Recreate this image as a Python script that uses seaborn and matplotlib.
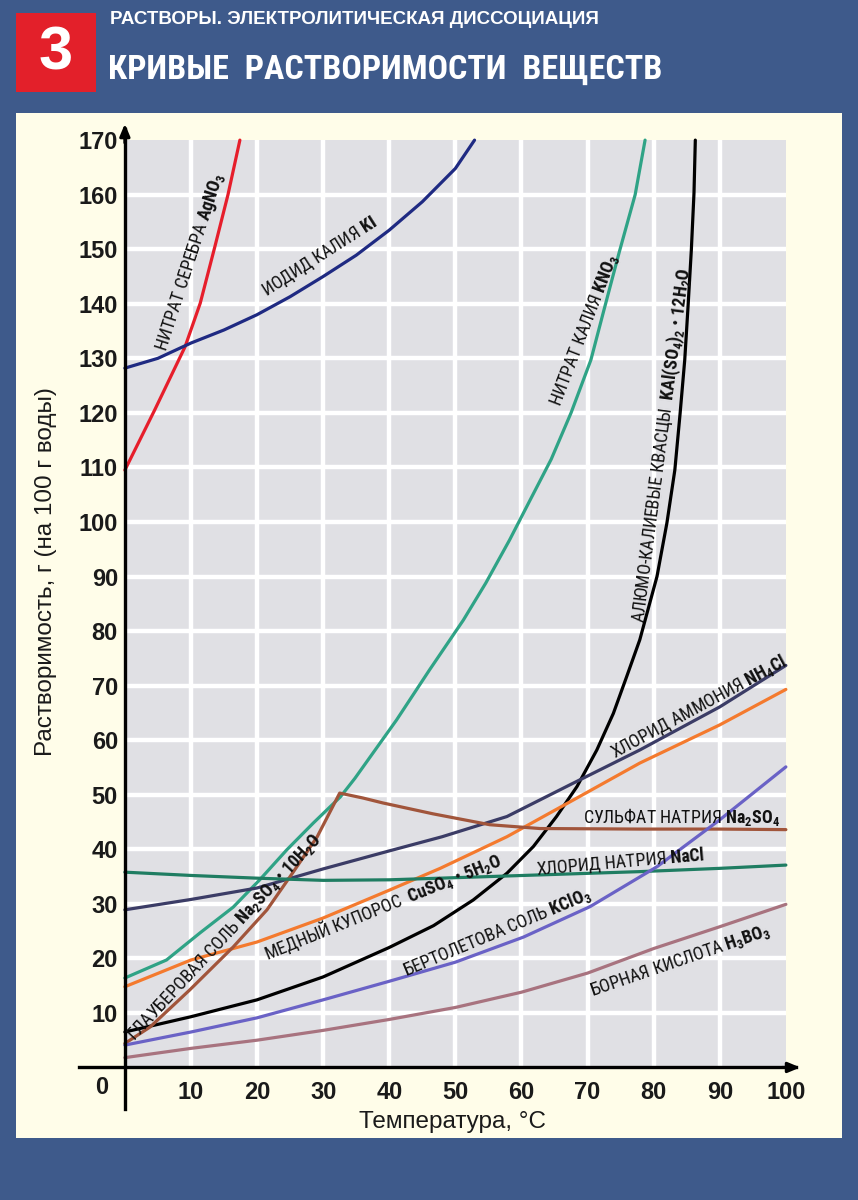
import numpy as np
import pandas as pd
import matplotlib
matplotlib.use("Agg")
import matplotlib.pyplot as plt
import seaborn as sns
from matplotlib.patches import Rectangle
from matplotlib import font_manager as fm

# ---------------- data ----------------
agno3_T = [0, 4.5, 9.1, 11.4, 13.6, 15.6, 17.4]
agno3_S = [109.5, 120.5, 132.1, 140.1, 150.4, 160, 170]

ki_T = [0, 5, 10, 15, 20, 25, 30, 35, 40, 45, 50, 52.9]
ki_S = [128.2, 130, 132.8, 135.2, 138, 141.3, 145, 148.9, 153.5, 158.7, 164.8, 170]

kno3_T = [0, 6.3, 11.4, 16.4, 20.4, 24.5, 28.5, 32.6, 34.8, 41.1, 46.1, 51.2, 54.6,
          58.2, 61.3, 64.5, 67.5, 70.5, 72.4, 74.8, 77.2, 78.7]
kno3_S = [16.4, 19.7, 24.7, 29.4, 34.4, 39.9, 44.8, 49.6, 53, 63.7, 72.9, 82, 88.8,
          96.7, 104, 111.5, 120, 129.7, 138.5, 149.5, 160, 170]

alum_T = [0, 10, 20, 30, 40, 46.7, 52.7, 57.8, 61.8, 65.3, 68.4, 71.4, 73.9, 75.9,
          77.9, 80.5, 82, 83.2, 84, 84.7, 85.2, 85.7, 86.1, 86.3]
alum_S = [6.5, 9.3, 12.4, 16.6, 22, 26, 30.7, 35.6, 40.5, 46, 51.5, 58.2, 64.9, 71.6,
          78.4, 90, 99.8, 109.5, 119.9, 129.7, 139.5, 149.9, 160.3, 170]

nh4cl_T = [0, 10, 20, 30, 40, 48, 57.8, 67.8, 77.9, 90, 100]
nh4cl_S = [28.9, 30.8, 32.9, 36.4, 39.7, 42.3, 46, 52.1, 58.2, 66.1, 73.7]

cuso4_T = [0, 10, 20, 30, 40, 47.7, 57.8, 67.8, 77.9, 90, 100]
cuso4_S = [14.8, 19.7, 23, 27.4, 32.5, 36.5, 42.3, 49, 55.8, 62.8, 69.3]

na2so4_T = [0, 3.8, 9.8, 16.4, 21.5, 25.4, 29.1, 32.5, 36, 39, 46.6, 55.2, 62.8, 77.9, 90, 100]
na2so4_S = [4.4, 7.4, 14.2, 22.1, 28.9, 35.7, 42.3, 50.3, 49.4, 48.5, 46.5, 44.5, 43.8, 43.7, 43.7, 43.6]

nacl_T = [0, 10, 20, 30, 40, 47.7, 62.8, 77.9, 90, 100]
nacl_S = [35.8, 35.2, 34.7, 34.3, 34.4, 34.7, 35.3, 35.9, 36.5, 37.1]

kclo3_T = [0, 10, 20, 30, 40, 50, 60.3, 70.4, 80.5, 90, 100]
kclo3_S = [4.1, 6.5, 9.1, 12.4, 15.8, 19.3, 23.9, 29.5, 36.8, 45.4, 55.1]

h3bo3_T = [0, 10, 20, 30, 40, 50, 60, 70, 80, 90, 100]
h3bo3_S = [1.8, 3.5, 5, 6.8, 8.8, 11, 13.8, 17.3, 21.8, 25.8, 29.9]

x_ticks = [10, 20, 30, 40, 50, 60, 70, 80, 90, 100]
y_ticks = list(range(10, 171, 10))

series = {
    "AgNO3": (agno3_T, agno3_S),
    "KI": (ki_T, ki_S),
    "KNO3": (kno3_T, kno3_S),
    "Alum": (alum_T, alum_S),
    "NH4Cl": (nh4cl_T, nh4cl_S),
    "CuSO4": (cuso4_T, cuso4_S),
    "Na2SO4": (na2so4_T, na2so4_S),
    "NaCl": (nacl_T, nacl_S),
    "KClO3": (kclo3_T, kclo3_S),
    "H3BO3": (h3bo3_T, h3bo3_S),
}
colors = {
    "AgNO3": "#e61e2b",
    "KI": "#1f2a82",
    "KNO3": "#2fa386",
    "Alum": "#000000",
    "NH4Cl": "#3b3c66",
    "CuSO4": "#f47a2e",
    "Na2SO4": "#a1553b",
    "NaCl": "#1f7d62",
    "KClO3": "#6a62c6",
    "H3BO3": "#a8737f",
}

rows = []
for name, (ts, ss) in series.items():
    for t, s in zip(ts, ss):
        rows.append((name, t, s))
df = pd.DataFrame(rows, columns=["name", "T", "S"])

# ---------------- fonts ----------------
sns.set_theme(style="white")
plt.rcParams["font.family"] = ["Liberation Sans", "DejaVu Sans"]


def find_narrow():
    pref = ["Liberation Sans Narrow", "Arial Narrow", "Roboto Condensed",
            "Open Sans Condensed", "Noto Sans Condensed", "DejaVu Sans Condensed"]
    entries = fm.fontManager.ttflist
    for p in pref:
        for f in entries:
            if f.name == p:
                return f.name, "normal"
    for f in entries:
        st = f.stretch
        cond = (isinstance(st, str) and "condensed" in st) or (isinstance(st, (int, float)) and st <= 87)
        if cond and ("Sans" in f.name or "Roboto" in f.name or "Inter" in f.name):
            return f.name, st
    return None, "normal"


NARROW, NSTRETCH = find_narrow()
if NARROW:
    LABEL_FAM = [NARROW, "Liberation Sans", "DejaVu Sans"]
    plt.rcParams["mathtext.fontset"] = "custom"
    plt.rcParams["mathtext.rm"] = NARROW
    plt.rcParams["mathtext.bf"] = NARROW + ":bold"
    plt.rcParams["mathtext.it"] = NARROW + ":italic"
else:
    LABEL_FAM = ["Liberation Sans", "DejaVu Sans"]
    NSTRETCH = "normal"
    plt.rcParams["mathtext.fontset"] = "custom"
    plt.rcParams["mathtext.rm"] = "Liberation Sans"
    plt.rcParams["mathtext.bf"] = "Liberation Sans:bold"
    plt.rcParams["mathtext.it"] = "Liberation Sans:italic"

BLUE = "#3e5a8b"
CREAM = "#fffde9"
GREY = "#e0e0e4"
W, H = 858, 1200

fig = plt.figure(figsize=(W / 100, H / 100), dpi=100, facecolor=BLUE)
renderer = fig.canvas.get_renderer()

# cream panel and header
fig.patches.append(Rectangle((16 / W, 1 - 1138 / H), 826 / W, 1025 / H,
                             transform=fig.transFigure, facecolor=CREAM,
                             edgecolor="none", zorder=-5))
fig.patches.append(Rectangle((16 / W, 1 - 92 / H), 80 / W, 79 / H,
                             transform=fig.transFigure, facecolor="#e3202a",
                             edgecolor="none", zorder=-4))
fig.text(56 / W, 1 - 54 / H, "3", color="white", fontsize=44, fontweight="bold",
         ha="center", va="center")
fig.text(110 / W, 1 - 20 / H, "РАСТВОРЫ. ЭЛЕКТРОЛИТИЧЕСКАЯ ДИССОЦИАЦИЯ",
         color="white", fontsize=13.5, fontweight="bold", ha="left", va="center")
title = fig.text(108 / W, 1 - 70 / H, "КРИВЫЕ  РАСТВОРИМОСТИ  ВЕЩЕСТВ",
                 color="white", fontsize=30, fontweight="bold", ha="left", va="center",
                 family=LABEL_FAM, fontstretch=NSTRETCH)
wt = title.get_window_extent(renderer).width
title.set_fontsize(min(40, 30 * 552 / wt))

# axes: T -7..103 -> px 78.6..805.7 ; S -8..174 -> px 1111.1..118.3
ax = fig.add_axes([78.6 / W, 1 - 1111.1 / H, 727.1 / W, 992.8 / H])
ax.set_zorder(2)
ax.set_facecolor("none")
ax.set_xlim(-7, 103)
ax.set_ylim(-8, 174)

ax.add_patch(Rectangle((0, 0), 100, 170, facecolor=GREY, edgecolor="none", zorder=0))
ax.vlines(x_ticks[:-1], 0, 170, color="white", lw=3.2, zorder=1)
ax.hlines(y_ticks[:-1], 0, 100, color="white", lw=3.2, zorder=1)

sns.lineplot(data=df, x="T", y="S", hue="name", palette=colors, sort=False,
             estimator=None, lw=2.3, legend=False, ax=ax, zorder=3)
for ln in ax.get_lines():
    ln.set_solid_joinstyle("round")
    ln.set_solid_capstyle("round")

# axis lines
for side in ["top", "right"]:
    ax.spines[side].set_visible(False)
ax.spines["left"].set_position(("data", 0))
ax.spines["bottom"].set_position(("data", 0))
ax.spines["left"].set_bounds(-7.7, 172)
ax.spines["bottom"].set_bounds(-7, 101.5)
for side in ["left", "bottom"]:
    ax.spines[side].set_color("black")
    ax.spines[side].set_linewidth(2.4)
    ax.spines[side].set_zorder(5)
ax.annotate("", xy=(0, 173.5), xytext=(0, 169),
            arrowprops=dict(arrowstyle="-|>,head_length=0.6,head_width=0.25",
                            color="black", lw=2.2), zorder=6)
ax.annotate("", xy=(102.6, 0), xytext=(99, 0),
            arrowprops=dict(arrowstyle="-|>,head_length=0.6,head_width=0.25",
                            color="black", lw=2.2), zorder=6)

ax.set_xticks(x_ticks)
ax.set_xticklabels([str(v) for v in x_ticks])
ax.set_yticks(y_ticks)
ax.set_yticklabels([str(v) for v in y_ticks])
ax.tick_params(axis="both", length=0, labelsize=17, colors="#1a1a1a")
ax.tick_params(axis="x", pad=10)
ax.tick_params(axis="y", pad=5)
for lab in ax.get_xticklabels() + ax.get_yticklabels():
    lab.set_fontweight("bold")
ax.text(-3.5, -3.7, "0", fontsize=17, fontweight="bold", color="#1a1a1a",
        ha="center", va="center")
ax.set_xlabel("")
ax.set_ylabel("")

fig.text(46 / W, 1 - 572 / H, "Растворимость, г (на 100 г воды)", rotation=90,
         fontsize=17.5, ha="center", va="center", color="#1a1a1a")
fig.text(452 / W, 1 - 1122 / H, "Температура, °C", fontsize=17.5,
         ha="center", va="center", color="#1a1a1a")

# curve labels: text, T, S, screen angle, target length in px
labels = [
    (r"НИТРАТ СЕРЕБРА $\mathbf{AgNO_3}$", 10.0, 147.6, 72, 147),
    (r"ИОДИД КАЛИЯ $\mathbf{KI}$", 29.5, 148.6, 32.6, 135),
    (r"НИТРАТ КАЛИЯ $\mathbf{KNO_3}$", 69.5, 135.2, 69, 155),
    (r"АЛЮМО-КАЛИЕВЫЕ КВАСЦЫ  $\mathbf{KAl(SO_4)_2}$ • $\mathbf{12H_2O}$", 81.3, 114.1, 82.6, 387),
    (r"ХЛОРИД АММОНИЯ $\mathbf{NH_4Cl}$", 86.8, 66.1, 28.4, 195),
    (r"СУЛЬФАТ НАТРИЯ $\mathbf{Na_2SO_4}$", 84.3, 45.9, 0, 197),
    (r"ХЛОРИД НАТРИЯ $\mathbf{NaCl}$", 74.9, 37.7, 5, 175),
    (r"МЕДНЫЙ КУПОРОС  $\mathbf{CuSO_4}$ • $\mathbf{5H_2O}$", 39.0, 29.6, 22, 253),
    (r"БЕРТОЛЕТОВА СОЛЬ $\mathbf{KClO_3}$", 56.3, 24.7, 22.7, 207),
    (r"БОРНАЯ КИСЛОТА $\mathbf{H_3BO_3}$", 84.0, 19.5, 18.9, 194),
    (r"ГЛАУБЕРОВАЯ СОЛЬ $\mathbf{Na_2SO_4}$ • $\mathbf{10H_2O}$", 15.1, 23.9, 47, 236),
]
base = 11.0
ratios = []
for txt, t, s, rot, L in labels:
    tmp = fig.text(0.5, 0.5, txt, fontsize=base, family=LABEL_FAM, fontstretch=NSTRETCH)
    ratios.append(L / tmp.get_window_extent(renderer).width)
    tmp.remove()
lab_size = float(np.clip(base * np.median(ratios), 8.5, 13.5))

for txt, t, s, rot, L in labels:
    ax.text(t, s, txt, rotation=rot, rotation_mode="anchor", ha="center",
            va="center", fontsize=lab_size, color="#111111", zorder=7,
            family=LABEL_FAM, fontstretch=NSTRETCH)

fig.savefig("out.png", dpi=100, facecolor=BLUE)
